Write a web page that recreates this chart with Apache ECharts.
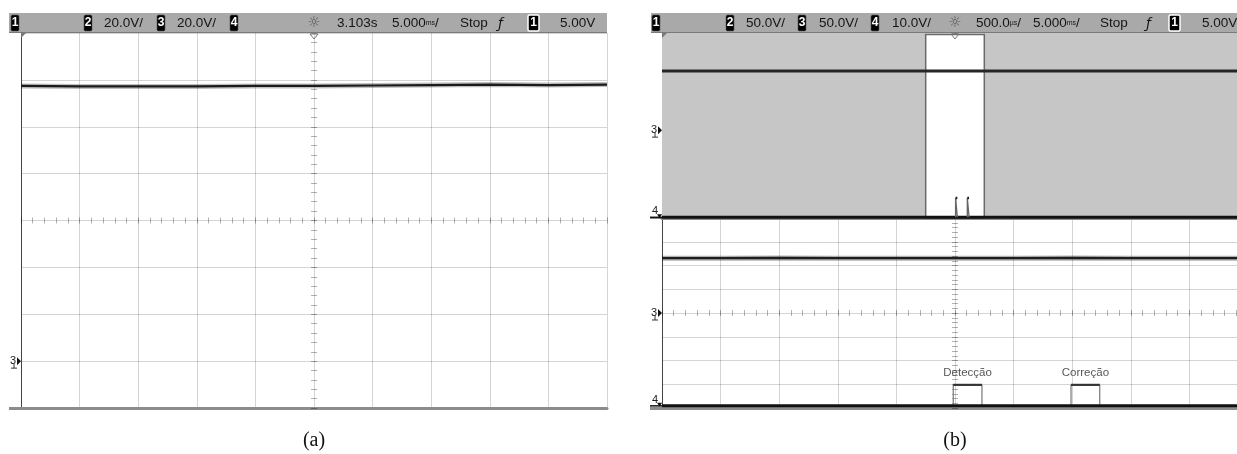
<!DOCTYPE html>
<html><head><meta charset="utf-8">
<script src="https://cdn.jsdelivr.net/npm/echarts@6/dist/echarts.min.js"></script>
<style>html,body{margin:0;padding:0;background:#fff}#c{width:1237px;height:454px}</style>
</head><body><div id="c"></div>
<script>
// ---------------- data (in screen divisions) ----------------
const divX = [0, 1, 2, 3, 4, 5, 6, 7, 8, 9, 10];
// (a) channel 1 trace level
const traceA = [6.87, 6.86, 6.86, 6.86, 6.87, 6.87, 6.88, 6.89, 6.90, 6.89, 6.90];
// (b) upper (main) window, channel 1
const traceBTop = [6.36, 6.36, 6.36, 6.36, 6.36, 6.36, 6.36, 6.36, 6.36, 6.36, 6.36];
// (b) lower (zoomed) window, channel 1
const traceBBot = [6.31, 6.31, 6.32, 6.31, 6.31, 6.31, 6.31, 6.32, 6.31, 6.31, 6.31];
// (b) upper window, channel 4 pulses
const ch4TopBase = 0.03;
const ch4TopHigh = 0.87;
const pulseStartTop = [5.01, 5.21];
const pulseEndTop = [5.04, 5.24];
// (b) zoomed window, channel 4 pulses
const ch4BotBase = 0.09;
const ch4BotHigh = 0.97;
const pulseStartBot = [4.97, 6.98];
const pulseEndBot = [5.46, 7.47];
const pulseNames = ['Detecção', 'Correção'];
const pulseLabelLevel = 1.48;
// zoom window in the upper view
const zoomWindow = [4.5, 5.5];
// channel reference markers [grid, level, label]
const chMarkers = [[0, 1, '3'], [1, 3.8, '3'], [1, 0.03, '4'], [2, 4, '3'], [2, 0.09, '4']];
// header texts
const headerA = {ch2: '20.0V/', ch3: '20.0V/', delay: '3.103s', tdiv: '5.000', tdivUnit: 'ms', mode: 'Stop', trig: '5.00V'};
const headerB = {ch2: '50.0V/', ch3: '50.0V/', ch4: '10.0V/', zdiv: '500.0', zdivUnit: 'µs', tdiv: '5.000', tdivUnit: 'ms', mode: 'Stop', trig: '5.00V'};
const captions = ['(a)', '(b)'];

// ---------------- layout ----------------
const GRIDS = [
  {left: 21, top: 33, width: 586, height: 375},
  {left: 662, top: 33, width: 586, height: 185},
  {left: 662, top: 218, width: 586, height: 190}
];
const GRIDCOL = 'rgba(0,0,0,0.17)';
const TICKCOL = 'rgba(0,0,0,0.3)';
const xAxes = [], yAxes = [];
GRIDS.forEach((g, i) => {
  xAxes.push({gridIndex: i, type: 'value', min: 0, max: 10, interval: 1,
    axisLine: {show: true, onZero: false, lineStyle: {color: '#8c8c8c', width: 3}},
    axisTick: {show: false}, axisLabel: {show: false},
    splitLine: {show: true, lineStyle: {color: GRIDCOL, width: 1}}});
  xAxes.push({gridIndex: i, type: 'value', min: 0, max: 10, interval: 0.2, position: 'top',
    offset: -(g.height / 2 + 3),
    axisLine: {show: false, onZero: false}, axisLabel: {show: false}, splitLine: {show: false},
    axisTick: {show: true, length: 6, lineStyle: {color: TICKCOL}}});
  yAxes.push({gridIndex: i, type: 'value', min: 0, max: 8, interval: 1,
    axisLine: {show: true, onZero: false, lineStyle: {color: '#444', width: 1}},
    axisTick: {show: false}, axisLabel: {show: false},
    splitLine: {show: true, lineStyle: {color: GRIDCOL, width: 1}}});
  yAxes.push({gridIndex: i, type: 'value', min: 0, max: 8, interval: 0.2, position: 'left',
    offset: -(g.width / 2 + 3),
    axisLine: {show: false, onZero: false}, axisLabel: {show: false}, splitLine: {show: false},
    axisTick: {show: true, length: 6, lineStyle: {color: TICKCOL}}});
});

function pts(xs, ys) { return xs.map((x, k) => [x, ys[k]]); }
function pulsePath(starts, ends, base, high) {
  const p = [];
  starts.forEach((s, k) => {
    p.push([s, base], [s, high], [ends[k], high], [ends[k], base], [ends[k], null]);
  });
  return p;
}
function pulseTops(starts, ends, high) {
  const p = [];
  starts.forEach((s, k) => { p.push([s, high], [ends[k], high], [ends[k], null]); });
  return p;
}
function ln(gi, data, color, width, z) {
  return {type: 'line', xAxisIndex: 2 * gi, yAxisIndex: 2 * gi, data: data, showSymbol: false,
    symbol: 'none', connectNulls: false, animation: false, silent: true, z: z || 5,
    lineStyle: {color: color, width: width}};
}

const series = [
  // background of upper (b) view: gray outside the zoom window, white inside
  {type: 'line', xAxisIndex: 2, yAxisIndex: 2, data: [], z: -1, silent: true, animation: false,
    markArea: {silent: true, animation: false, data: [
      [{xAxis: 0, yAxis: 0, itemStyle: {color: '#c6c6c6'}}, {xAxis: zoomWindow[0], yAxis: 8}],
      [{xAxis: zoomWindow[1], yAxis: 0, itemStyle: {color: '#c6c6c6'}}, {xAxis: 10, yAxis: 8}],
      [{xAxis: zoomWindow[0], yAxis: 0, itemStyle: {color: '#ffffff', borderColor: '#6a6a6a', borderWidth: 1.5}}, {xAxis: zoomWindow[1], yAxis: 7.93}]
    ]}},
  // (a)
  ln(0, pts(divX, traceA), 'rgba(0,0,0,0.25)', 5, 4),
  ln(0, pts(divX, traceA), '#1a1a1a', 2.2, 5),
  // (b) upper
  ln(1, pts(divX, traceBTop), '#262626', 3, 5),
  ln(1, [[0, ch4TopBase], [10, ch4TopBase]], '#111', 3, 5),
  ln(1, pulsePath(pulseStartTop, pulseEndTop, ch4TopBase, ch4TopHigh), '#666', 1.3, 6),
  ln(1, pulseTops(pulseStartTop, pulseEndTop, ch4TopHigh), '#222', 2.5, 6),
  // (b) lower
  ln(2, pts(divX, traceBBot), 'rgba(0,0,0,0.3)', 5, 4),
  ln(2, pts(divX, traceBBot), '#1e1e1e', 2.4, 5),
  ln(2, [[0, ch4BotBase], [10, ch4BotBase]], '#111', 3, 6),
  ln(2, pulsePath(pulseStartBot, pulseEndBot, ch4BotBase, ch4BotHigh), '#777', 1.2, 5),
  ln(2, pulseTops(pulseStartBot, pulseEndBot, ch4BotHigh), 'rgba(30,30,30,0.8)', 2.2, 6),
  {type: 'scatter', xAxisIndex: 4, yAxisIndex: 4, symbolSize: 1, silent: true, animation: false,
    itemStyle: {color: 'rgba(0,0,0,0)'},
    data: pulseNames.map((n, k) => [(pulseStartBot[k] + pulseEndBot[k]) / 2, pulseLabelLevel, n]),
    label: {show: true, position: 'inside', formatter: p => p.data[2],
      fontFamily: 'Liberation Sans, Arial, sans-serif', fontSize: 11.5, color: '#2a2a2a'}}
];

const chart = echarts.init(document.getElementById('c'));
chart.setOption({
  animation: false,
  backgroundColor: '#ffffff',
  grid: GRIDS.map(g => Object.assign({containLabel: false, outerBoundsMode: 'none'}, g)),
  xAxis: xAxes, yAxis: yAxes, series: series
});

// ---------------- screen furniture (header bars, markers, captions) ----------------
const F = 'Liberation Sans, Arial, sans-serif';
const els = [];
function bar(x, w) { els.push({type: 'rect', shape: {x: x, y: 13, width: w, height: 20}, style: {fill: '#a9a9a9'}, z: 10});
  els.push({type: 'rect', shape: {x: x, y: 32, width: w, height: 1}, style: {fill: '#7a7a7a'}, z: 10}); }
function box(x, d, w, bordered) {
  els.push({type: 'rect', shape: {x: x, y: 15, width: w || 8, height: 16, r: 1.5},
    style: {fill: '#000', stroke: bordered ? '#fff' : '#555', lineWidth: bordered ? 1.5 : 0.6}, z: 11});
  els.push({type: 'text', x: x + (w || 8) / 2, y: 23, style: {text: d, fill: '#fff', font: 'bold 12px ' + F, align: 'center', verticalAlign: 'middle'}, z: 12});
}
function txt(x, t, size) { els.push({type: 'text', x: x, y: 23.5, style: {text: t, fill: '#151515', font: (size || 13.5) + 'px ' + F, verticalAlign: 'middle'}, z: 11}); }
function tdiv(x, num, unit) {
  els.push({type: 'text', x: x, y: 23.5, style: {rich: {a: {fontSize: 13.5, fontFamily: F, fill: '#151515'}, u: {fontSize: 7, fontFamily: F, fill: '#151515'}},
    text: '{a|' + num + '}{u|' + unit + '}{a|/}', verticalAlign: 'middle'}, z: 11});
}
function sun(cx) {
  els.push({type: 'text', x: cx, y: 23, style: {text: '☼', fill: '#555', font: '15px DejaVu Sans', align: 'center', verticalAlign: 'middle'}, z: 11});
  els.push({type: 'polygon', shape: {points: [[cx - 4, 34], [cx + 4, 34], [cx, 39]]}, style: {fill: 'none', stroke: '#777', lineWidth: 1}, z: 11});
}
function trig(x) { els.push({type: 'text', x: x, y: 24, style: {text: 'ƒ', fill: '#151515', font: 'italic 14px DejaVu Sans', verticalAlign: 'middle'}, z: 11}); }

// header (a)
bar(9, 598);
box(11, '1', 8); box(84, '2'); txt(104, headerA.ch2); box(157, '3'); txt(177, headerA.ch3); box(230, '4');
sun(314); txt(337, headerA.delay); tdiv(392, headerA.tdiv, headerA.tdivUnit); txt(460, headerA.mode);
trig(498); box(528, '1', 11, true); txt(560, headerA.trig);
// header (b)
bar(651, 586);
box(652, '1', 8); box(726, '2'); txt(746, headerB.ch2); box(798, '3'); txt(819, headerB.ch3); box(871, '4'); txt(892, headerB.ch4);
sun(955); tdiv(976, headerB.zdiv, headerB.zdivUnit); tdiv(1033, headerB.tdiv, headerB.tdivUnit); txt(1100, headerB.mode);
trig(1146); box(1169, '1', 11, true); txt(1202, headerB.trig);

// trigger level marker (small corner triangle) in each top-left
[0, 1].forEach(gi => {
  const p = chart.convertToPixel({gridIndex: gi}, [0, 8]);
  els.push({type: 'polygon', shape: {points: [[p[0], p[1]], [p[0] + 5, p[1]], [p[0], p[1] + 5]]}, style: {fill: '#777'}, z: 11});
});
// frame extensions at bottom-left
els.push({type: 'rect', shape: {x: 9, y: 407, width: 12, height: 3}, style: {fill: '#8c8c8c'}, z: 3});
els.push({type: 'rect', shape: {x: 650, y: 407, width: 12, height: 3}, style: {fill: '#8c8c8c'}, z: 3});
els.push({type: 'rect', shape: {x: 650, y: 217, width: 12, height: 1.5}, style: {fill: '#222'}, z: 3});

// channel reference markers
chMarkers.forEach(m => {
  const p = chart.convertToPixel({gridIndex: m[0]}, [0, m[1]]);
  const x = p[0], y = p[1];
  if (m[2] === '3') {
    els.push({type: 'text', x: x - 11, y: y, style: {text: '3', fill: '#222', font: '11px ' + F, verticalAlign: 'middle'}, z: 12});
    els.push({type: 'polygon', shape: {points: [[x - 4, y - 4], [x, y], [x - 4, y + 4]]}, style: {fill: '#111'}, z: 12});
    els.push({type: 'line', shape: {x1: x - 7, y1: y + 2, x2: x - 7, y2: y + 7}, style: {stroke: '#333', lineWidth: 1}, z: 12});
    els.push({type: 'line', shape: {x1: x - 10, y1: y + 7, x2: x - 4, y2: y + 7}, style: {stroke: '#333', lineWidth: 1}, z: 12});
  } else {
    els.push({type: 'text', x: x - 10, y: y - 6, style: {text: '4', fill: '#222', font: '11px ' + F, verticalAlign: 'middle'}, z: 12});
    els.push({type: 'polygon', shape: {points: [[x - 5, y - 3], [x, y - 3], [x - 2.5, y + 1]]}, style: {fill: '#111'}, z: 12});
    els.push({type: 'line', shape: {x1: x - 12, y1: y, x2: x, y2: y}, style: {stroke: '#111', lineWidth: 1.5}, z: 12});
  }
});

// captions, centred under each screen
[[0, captions[0]], [1, captions[1]]].forEach(c => {
  const cx = chart.convertToPixel({gridIndex: c[0]}, [5, 0])[0];
  els.push({type: 'text', x: cx, y: 441, style: {text: c[1], fill: '#111', font: '20px Liberation Serif, DejaVu Serif, serif', align: 'center', verticalAlign: 'middle'}, z: 11});
});

chart.setOption({graphic: {elements: els}});
</script>
</body></html>
